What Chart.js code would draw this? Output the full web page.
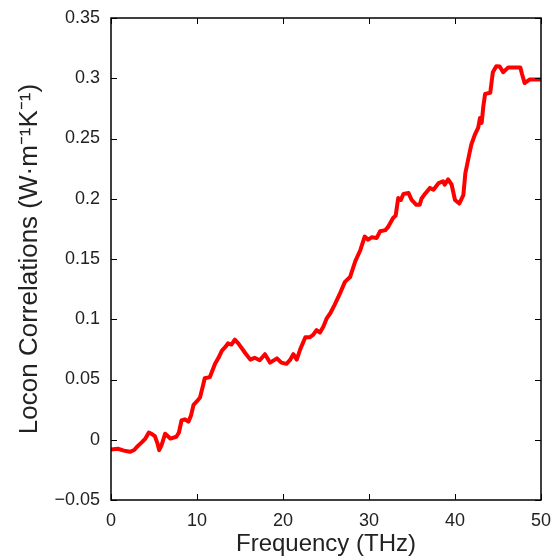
<!DOCTYPE html>
<html>
<head>
<meta charset="utf-8">
<script src="https://cdn.jsdelivr.net/npm/chart.js@4"></script>
<style>
html,body{margin:0;padding:0;background:#fff;}
#wrap{width:552px;height:556px;}
</style>
</head>
<body>
<div id="wrap"><canvas id="c" width="552" height="556"></canvas></div>
<script>
const freq = [0,0.8,1.5,2.2,2.7,3.0,3.6,4.0,4.4,4.8,5.1,5.4,5.6,5.9,6.3,6.9,7.6,7.9,8.2,8.6,9.0,9.3,9.6,10.0,10.35,10.7,10.9,11.5,12.1,12.5,12.9,13.3,13.6,14.0,14.4,14.8,15.2,15.6,16.2,16.7,17.3,17.9,18.5,19.3,19.8,20.4,20.8,21.2,21.6,22.0,22.6,23.1,23.5,23.9,24.3,24.7,25.1,25.5,26.0,26.6,27.2,27.8,28.4,29.0,29.5,29.9,30.3,30.9,31.3,31.9,32.2,32.8,33.1,33.4,33.7,34.0,34.6,34.96,35.5,35.9,36.1,36.5,37.1,37.5,38.1,38.6,38.8,39.2,39.6,40.0,40.5,40.97,41.2,41.6,41.9,42.3,42.7,42.9,43.1,43.3,43.5,44.1,44.4,44.8,45.2,45.6,46.2,47.6,47.8,48.1,48.7,50];
const corr = [-0.008,-0.0075,-0.009,-0.010,-0.0085,-0.006,-0.002,0.001,0.006,0.0045,0.003,-0.003,-0.0086,-0.004,0.005,0.001,0.0025,0.006,0.016,0.017,0.015,0.020,0.029,0.032,0.035,0.045,0.051,0.052,0.063,0.068,0.074,0.077,0.080,0.079,0.083,0.080,0.076,0.072,0.0665,0.068,0.066,0.071,0.064,0.0675,0.064,0.063,0.066,0.071,0.0665,0.075,0.085,0.085,0.087,0.091,0.089,0.094,0.101,0.105,0.112,0.121,0.131,0.135,0.148,0.1575,0.1686,0.166,0.168,0.1675,0.173,0.174,0.1764,0.184,0.186,0.2006,0.199,0.204,0.2047,0.199,0.195,0.195,0.2,0.204,0.209,0.2075,0.213,0.2145,0.2117,0.216,0.212,0.199,0.196,0.203,0.221,0.235,0.245,0.253,0.259,0.267,0.263,0.277,0.287,0.288,0.305,0.310,0.3097,0.305,0.309,0.309,0.3033,0.296,0.299,0.299];
const xTickLabels = ['0','10','20','30','40','50'];
const yTickLabels = ['\u22120.05','0','0.05','0.1','0.15','0.2','0.25','0.3','0.35'];
const xTitle = 'Frequency (THz)';
const yTitle = 'Locon Correlations (W\u00B7m\u207B\u00B9K\u207B\u00B9)';

const points = freq.map((f,i)=>({x:f,y:corr[i]}));
const textColor = '#222';
const fam = '"Liberation Sans", Arial, Helvetica, sans-serif';

const boxPlugin = {
  id:'boxTicks',
  afterDraw(chart){
    const {ctx, chartArea:a, scales} = chart;
    ctx.save();
    ctx.strokeStyle = '#000';
    ctx.lineWidth = 1;
    const L = 6;
    ctx.beginPath();
    scales.x.ticks.forEach(t=>{
      const px = Math.round(scales.x.getPixelForValue(t.value))+0.5;
      ctx.moveTo(px,a.bottom); ctx.lineTo(px,a.bottom-L);
      ctx.moveTo(px,a.top); ctx.lineTo(px,a.top+L);
    });
    scales.y.ticks.forEach(t=>{
      const py = Math.round(scales.y.getPixelForValue(t.value))+0.5;
      ctx.moveTo(a.left,py); ctx.lineTo(a.left+L,py);
      ctx.moveTo(a.right,py); ctx.lineTo(a.right-L,py);
    });
    ctx.stroke();
    ctx.lineWidth = 1.5;
    ctx.strokeRect(a.left, a.top, a.right-a.left, a.bottom-a.top);
    ctx.restore();
  }
};

new Chart(document.getElementById('c'), {
  type:'line',
  data:{datasets:[{data:points, borderColor:'#ff0000', borderWidth:4, pointRadius:0, tension:0, fill:false, borderJoinStyle:'round', borderCapStyle:'round'}]},
  options:{
    responsive:false, animation:false,
    layout:{padding:{top:18,right:11,left:0,bottom:0}},
    plugins:{legend:{display:false}, tooltip:{enabled:false}},
    scales:{
      x:{type:'linear', min:0, max:50,
        grid:{display:false, drawTicks:false}, border:{display:false},
        ticks:{stepSize:10, padding:10, color:textColor, font:{family:fam,size:18}, maxRotation:0,
          callback:(v)=>xTickLabels[Math.round(v/10)]},
        title:{display:true, text:xTitle, color:textColor, font:{family:fam,size:24}, padding:{top:0,bottom:-3}},
        afterFit(s){s.height=56; s.paddingLeft=0; s.paddingRight=0;}
      },
      y:{type:'linear', min:-0.05, max:0.35,
        grid:{display:false, drawTicks:false}, border:{display:false},
        ticks:{stepSize:0.05, padding:11, color:textColor, font:{family:fam,size:18},
          callback:(v)=>yTickLabels[Math.round((v+0.05)/0.05)]},
        title:{display:true, text:yTitle, color:textColor, font:{family:fam,size:26}, padding:{top:14,bottom:0}},
        afterFit(s){s.width=111; s.paddingTop=0; s.paddingBottom=0;}
      }
    }
  },
  plugins:[boxPlugin]
});
</script>
</body>
</html>
